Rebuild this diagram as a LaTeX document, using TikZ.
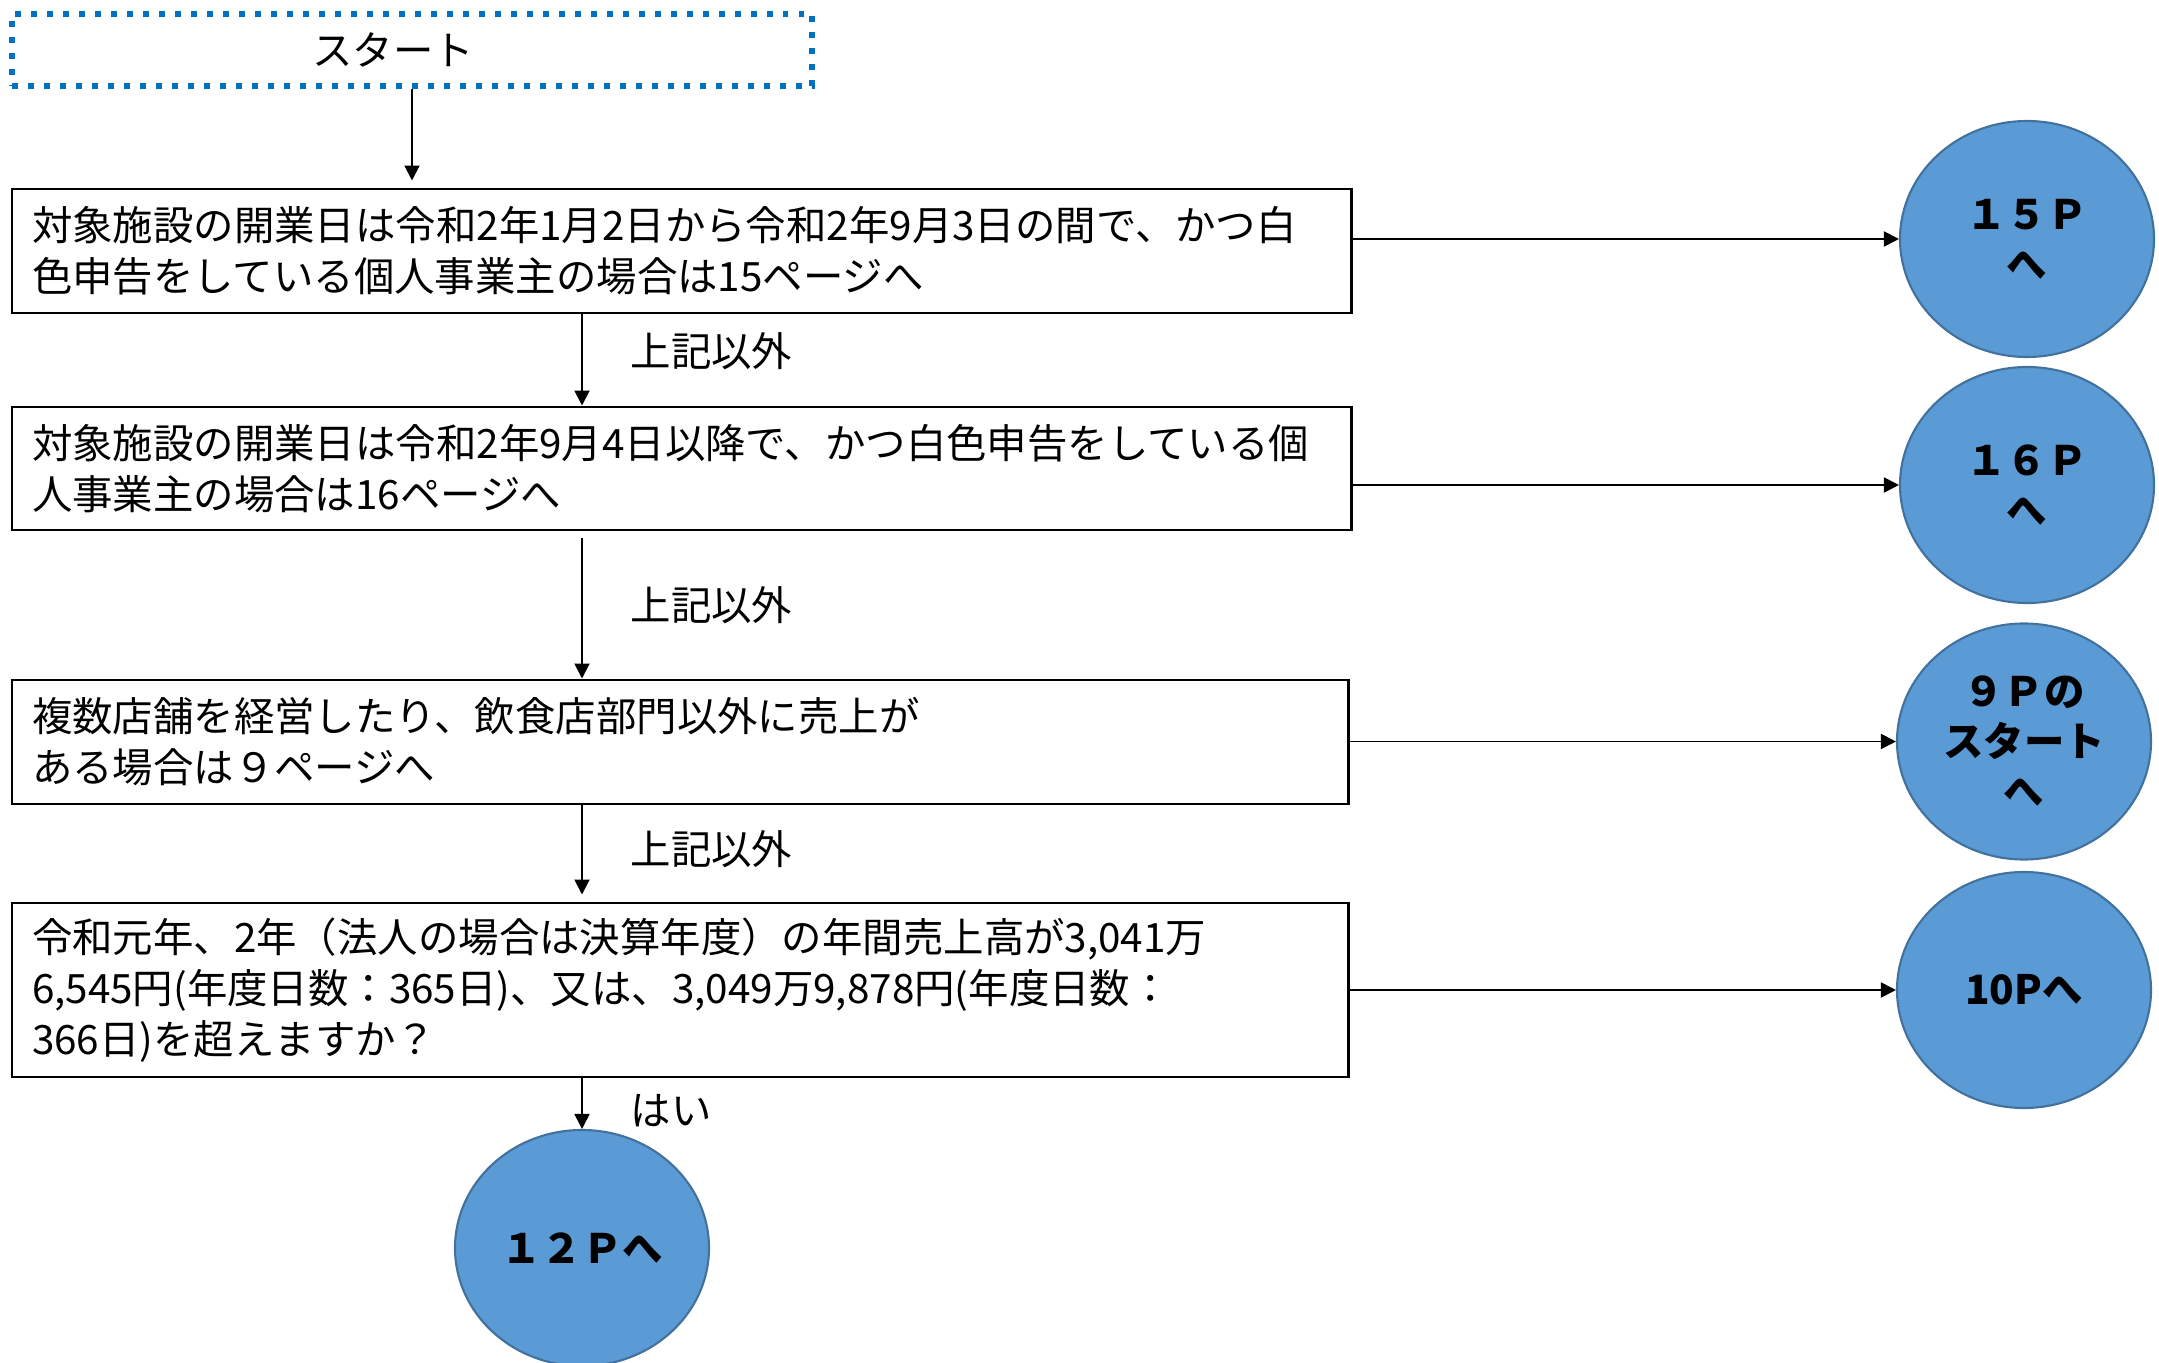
\documentclass[tikz,border=0pt]{standalone}
\usepackage{fontspec}
\setmainfont{Noto Sans CJK JP}
\usetikzlibrary{shapes.geometric,arrows.meta}
\definecolor{pageblue}{HTML}{5B9BD5}
\definecolor{pageedge}{HTML}{41719C}
\definecolor{startblue}{HTML}{0070C0}

\begin{document}
\begin{tikzpicture}[
    font=\fontsize{11.5pt}{0.51cm}\selectfont,
    question/.style={draw,line width=0.85pt,align=left,text width=12.99cm,
        inner xsep=0.2cm,inner ysep=0pt},
    pagelink/.style={draw=pageedge,fill=pageblue,ellipse,line width=0.6pt,
        minimum width=2.54cm,minimum height=2.36cm,inner sep=0pt,align=center,
        font=\fontsize{11.5pt}{0.5cm}\selectfont\bfseries},
    flow/.style={-{Triangle[length=0.15cm,width=0.15cm]},line width=0.55pt},
  ]
\useasboundingbox (0,0) rectangle (21.59,-13.63);

\node [draw=startblue,line width=1.7pt,dash pattern=on 1.7pt off 2.85pt,
       minimum width=8cm,minimum height=0.72cm]
      (start) at (4.12,-0.50) {\hspace*{-0.38cm}スタート};

\node [question,minimum height=1.24cm] (q1) at (6.815,-2.51)
      {対象施設の開業日は令和2年1月2日から令和2年9月3日の間で、かつ白\\
       色申告をしている個人事業主の場合は15ページへ};
\node [question,minimum height=1.23cm] (q2) at (6.815,-4.685)
      {対象施設の開業日は令和2年9月4日以降で、かつ白色申告をしている個\\
       人事業主の場合は16ページへ};
\node [question,minimum height=1.24cm,text width=12.96cm] (q3) at (6.80,-7.42)
      {複数店舗を経営したり、飲食店部門以外に売上が\\
       ある場合は９ページへ};
\node [question,minimum height=1.74cm,text width=12.96cm] (q4) at (6.80,-9.90)
      {令和元年、2年（法人の場合は決算年度）の年間売上高が3,041万\\
       6,545円(年度日数：365日)、又は、3,049万9,878円(年度日数：\\
       366日)を超えますか？};

\node [pagelink] (p15) at (20.27,-2.39)  {１５Ｐ\\へ};
\node [pagelink] (p16) at (20.27,-4.85)  {１６Ｐ\\へ};
\node [pagelink] (p9)  at (20.24,-7.415) {９Ｐの\\スタート\\へ};
\node [pagelink] (p10) at (20.24,-9.90)  {10Pへ};
\node [pagelink] (p12) at (5.82,-12.48)  {１２Ｐへ};

\node [anchor=west,inner sep=0pt] (other1) at (6.30,-3.51)  {上記以外};
\node [anchor=west,inner sep=0pt] (other2) at (6.30,-6.05)  {上記以外};
\node [anchor=west,inner sep=0pt] (other3) at (6.30,-8.49)  {上記以外};
\node [anchor=west,inner sep=0pt] (yes)    at (6.30,-11.11) {はい};

\draw [flow,shorten >=0.07cm] (start.south) -- (start.south |- q1.north);
\draw [flow] (q1.south -| p12) -- (q2.north -| p12);
\draw [flow,shorten <=0.07cm] (q2.south -| p12) -- (q3.north -| p12);
\draw [flow,shorten >=0.07cm] (q3.south -| p12) -- (q4.north -| p12);
\draw [flow] (q4.south -| p12) -- (p12.north);

\draw [flow] (q1.east |- p15) -- (p15.west);
\draw [flow] (q2.east |- p16) -- (p16.west);
\draw [flow] (q3.east |- p9)  -- (p9.west);
\draw [flow] (q4.east |- p10) -- (p10.west);
\end{tikzpicture}
\end{document}
